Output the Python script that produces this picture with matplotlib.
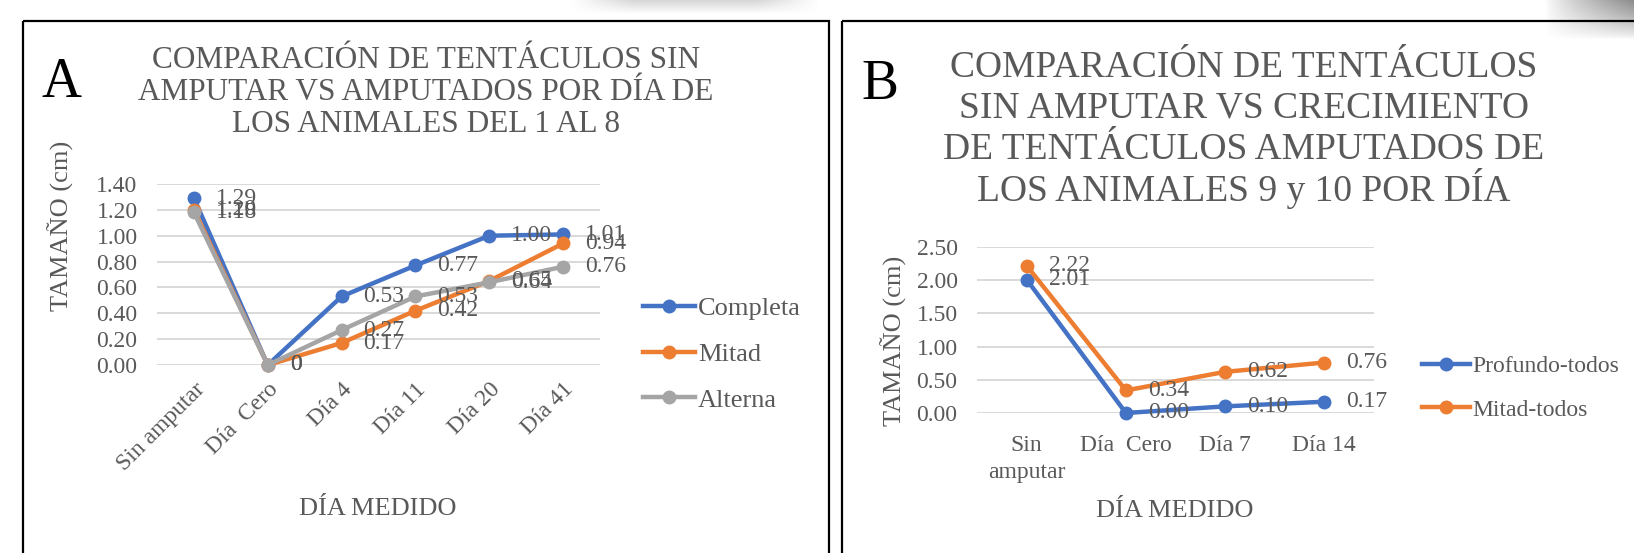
import numpy as np
import matplotlib
matplotlib.use("Agg")
import matplotlib.pyplot as plt
from matplotlib.patches import Rectangle

# panel A: animals 1-8
cats_a = ["Sin amputar", "Día  Cero", "Día 4", "Día 11", "Día 20", "Día 41"]
completa = [1.29, 0.0, 0.53, 0.77, 1.00, 1.01]
mitad = [1.20, 0.0, 0.17, 0.42, 0.65, 0.94]
alterna = [1.18, 0.0, 0.27, 0.53, 0.64, 0.76]
yticks_a = [0.0, 0.2, 0.4, 0.6, 0.8, 1.0, 1.2, 1.4]
title_a = ["COMPARACIÓN DE TENTÁCULOS SIN", "AMPUTAR VS AMPUTADOS POR DÍA DE", "LOS ANIMALES DEL 1 AL 8"]

# panel B: animals 9 and 10
cats_b = ["Sin\namputar", "Día  Cero", "Día 7", "Día 14"]
profundo = [2.01, 0.00, 0.10, 0.17]
mitad_todos = [2.22, 0.34, 0.62, 0.76]
yticks_b = [0.0, 0.5, 1.0, 1.5, 2.0, 2.5]
title_b = ["COMPARACIÓN DE TENTÁCULOS", "SIN AMPUTAR VS CRECIMIENTO",
           "DE TENTÁCULOS AMPUTADOS DE", "LOS ANIMALES 9 y 10 POR DÍA"]

BLUE, ORANGE, GRAY = "#4472C4", "#ED7D31", "#A5A5A5"
TXT = "#595959"
W, H = 1634, 553
plt.rcParams["font.family"] = ["Liberation Serif", "DejaVu Serif"]

fig = plt.figure(figsize=(W / 100, H / 100), dpi=100)
fig.patch.set_facecolor("white")


def px_axes(x0, x1, ytop, ybot):
    return fig.add_axes([x0 / W, 1 - ybot / H, (x1 - x0) / W, (ybot - ytop) / H])


def ptext(x, y, s, **kw):
    # text placed in pixel coords measured from the top-left corner
    return fig.text(x / W, 1 - y / H, s, **kw)


# decoration: soft shadows at the top edge + panel frames
bg = fig.add_axes([0, 0, 1, 1], zorder=-5)
bg.set_xlim(0, W); bg.set_ylim(H, 0); bg.axis("off")
g = np.linspace(0, 1, 60)
band = np.outer(1 - g, np.clip(np.minimum(np.linspace(0, 4, 200), np.linspace(4, 0, 200)), 0, 1))
bg.imshow(1 - 0.16 * band, cmap="gray", vmin=0, vmax=1, extent=(570, 820, 14, 0), aspect="auto")
cx = np.linspace(0, 1, 90)
cy = np.linspace(1, 0, 40)
corner = np.outer(cy, cx) ** 0.8
bg.imshow(1 - 0.45 * corner, cmap="gray", vmin=0, vmax=1, extent=(1545, 1634, 40, 0), aspect="auto")
bg.add_patch(Rectangle((23, 21), 806, 560, fill=False, ec="black", lw=1.6))
bg.add_patch(Rectangle((842, 21), 820, 560, fill=False, ec="black", lw=1.6))


def style(ax, yticks, fmt):
    ax.set_ylim(yticks[0], yticks[-1])
    ax.set_yticks(yticks)
    ax.set_yticklabels([fmt.format(v) for v in yticks], color=TXT, fontsize=17)
    ax.grid(axis="y", color="#D9D9D9", lw=1.4)
    ax.set_axisbelow(True)
    for s in ax.spines.values():
        s.set_visible(False)
    ax.tick_params(length=0, pad=14)


def labels(ax, vals, fmt):
    for i, v in enumerate(vals):
        ax.annotate(fmt(v), (i, v), xytext=(22, 0), textcoords="offset pixels",
                    ha="left", va="center", fontsize=17, color=TXT, clip_on=False)


# ---- panel A
ax = px_axes(157, 600, 184, 365)
xa = np.arange(len(cats_a))
for vals, c, name in [(completa, BLUE, "Completa"), (mitad, ORANGE, "Mitad"), (alterna, GRAY, "Alterna")]:
    ax.plot(xa, vals, "-o", color=c, lw=3.2, ms=9, label=name, clip_on=False)
for vals in [completa, mitad, alterna]:
    labels(ax, vals, lambda v: "0" if v == 0 else f"{v:.2f}")
ax.set_xlim(-0.5, len(cats_a) - 0.5)
style(ax, yticks_a, "{:.2f}")
ax.set_xticks(xa)
ax.set_xticklabels(cats_a, rotation=45, ha="right", va="top", rotation_mode="anchor",
                   color=TXT, fontsize=17)
ax.tick_params(axis="x", pad=10)
ax.legend(loc="center left", bbox_to_anchor=((632 - 157) / 443, (365 - 354) / 181), frameon=False,
          fontsize=19, labelcolor=TXT, handlelength=2.0, handletextpad=0.1, labelspacing=0.85,
          borderaxespad=0)

for line, base in zip(title_a, [68, 100, 132]):
    ptext(426, base, line, ha="center", va="baseline", fontsize=22.5, color=TXT)
ptext(42, 97, "A", fontsize=40, ha="left", va="baseline", color="black")
ptext(61, 226, "TAMAÑO (cm)", rotation=90, ha="center", va="center", fontsize=19, color=TXT)
ptext(378, 515, "DÍA MEDIDO", ha="center", va="baseline", fontsize=19, color=TXT)

# ---- panel B
bx = px_axes(977, 1374, 247, 413)
xb = np.arange(len(cats_b))
bx.plot(xb, profundo, "-o", color=BLUE, lw=3.2, ms=9, label="Profundo-todos", clip_on=False)
bx.plot(xb, mitad_todos, "-o", color=ORANGE, lw=3.2, ms=9, label="Mitad-todos", clip_on=False)
labels(bx, profundo, lambda v: f"{v:.2f}")
labels(bx, mitad_todos, lambda v: f"{v:.2f}")
bx.set_xlim(-0.5, len(cats_b) - 0.5)
style(bx, yticks_b, "{:.2f}")
bx.set_xticks(xb)
bx.set_xticklabels(cats_b, color=TXT, fontsize=17, va="top", linespacing=1.35)
bx.tick_params(axis="x", pad=16)
bx.legend(loc="center left", bbox_to_anchor=((1413 - 977) / 397, (413 - 388) / 166), frameon=False,
          fontsize=17, labelcolor=TXT, handlelength=2.0, handletextpad=0.1, labelspacing=0.95,
          borderaxespad=0)

for line, base in zip(title_b, [77, 118, 159, 201]):
    ptext(1244, base, line, ha="center", va="baseline", fontsize=27, color=TXT)
ptext(861, 99, "B", fontsize=40, ha="left", va="baseline", color="black")
ptext(894, 341, "TAMAÑO (cm)", rotation=90, ha="center", va="center", fontsize=19, color=TXT)
ptext(1175, 517, "DÍA MEDIDO", ha="center", va="baseline", fontsize=19, color=TXT)

fig.savefig("out.png", dpi=100)
